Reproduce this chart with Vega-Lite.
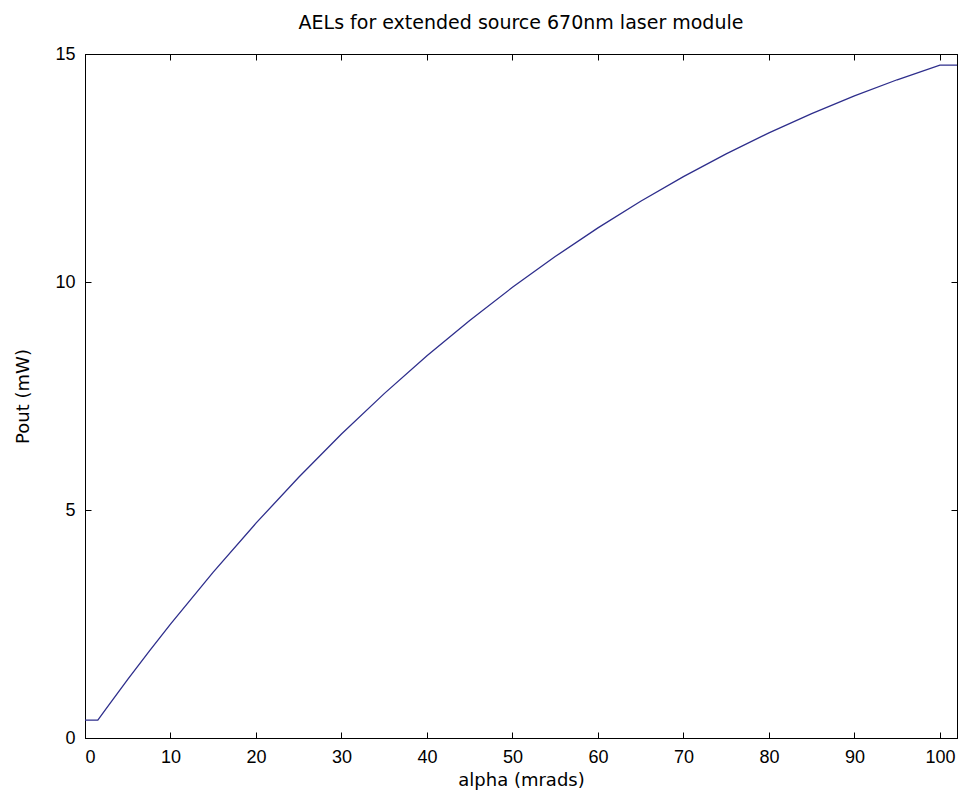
{
  "$schema": "https://vega.github.io/schema/vega-lite/v6.json",
  "width": 872,
  "height": 684,
  "autosize": {"type": "none"},
  "padding": {"left": 85, "top": 54, "right": 3, "bottom": 67},
  "background": "white",
  "title": {"text": "AELs for extended source 670nm laser module", "fontSize": 19, "font": "DejaVu Sans", "fontWeight": "normal", "color": "#000", "offset": 12, "anchor": "middle"},
  "data": {"values": [
    {"alpha": 0, "pout": 0.394},
    {"alpha": 1.5, "pout": 0.394},
    {"alpha": 2.5, "pout": 0.652},
    {"alpha": 5, "pout": 1.286},
    {"alpha": 7.5, "pout": 1.900},
    {"alpha": 10, "pout": 2.497},
    {"alpha": 15, "pout": 3.638},
    {"alpha": 20, "pout": 4.711},
    {"alpha": 25, "pout": 5.719},
    {"alpha": 30, "pout": 6.665},
    {"alpha": 35, "pout": 7.552},
    {"alpha": 40, "pout": 8.382},
    {"alpha": 45, "pout": 9.158},
    {"alpha": 50, "pout": 9.883},
    {"alpha": 55, "pout": 10.558},
    {"alpha": 60, "pout": 11.186},
    {"alpha": 65, "pout": 11.770},
    {"alpha": 70, "pout": 12.310},
    {"alpha": 75, "pout": 12.809},
    {"alpha": 80, "pout": 13.270},
    {"alpha": 85, "pout": 13.693},
    {"alpha": 90, "pout": 14.081},
    {"alpha": 95, "pout": 14.435},
    {"alpha": 100, "pout": 14.757},
    {"alpha": 102, "pout": 14.757}
  ]},
  "encoding": {
    "x": {"field": "alpha", "type": "quantitative", "scale": {"domain": [0, 102], "nice": false, "zero": false}},
    "y": {"field": "pout", "type": "quantitative", "scale": {"domain": [0, 15], "nice": false}}
  },
  "layer": [
    {
      "mark": {"type": "line", "color": "#2e2e8c", "strokeWidth": 1.3, "clip": true},
      "encoding": {
        "x": {"field": "alpha", "type": "quantitative", "title": "alpha (mrads)",
          "axis": {"orient": "bottom", "values": [0,10,20,30,40,50,60,70,80,90,100], "tickSize": -6, "labelPadding": 16, "titlePadding": 5, "grid": false}},
        "y": {"field": "pout", "type": "quantitative", "title": "Pout (mW)",
          "axis": {"orient": "left", "values": [0,5,10,15], "tickSize": -6, "labelPadding": 16, "titlePadding": 22, "grid": false}}
      }
    },
    {
      "mark": {"type": "line", "opacity": 0},
      "encoding": {
        "x": {"field": "alpha", "type": "quantitative",
          "axis": {"orient": "top", "values": [0,10,20,30,40,50,60,70,80,90,100], "tickSize": -6, "labels": false, "title": null, "grid": false}},
        "y": {"field": "pout", "type": "quantitative",
          "axis": {"orient": "right", "values": [0,5,10,15], "tickSize": -6, "labels": false, "title": null, "grid": false}}
      }
    }
  ],
  "resolve": {"axis": {"x": "independent", "y": "independent"}},
  "config": {
    "view": {"stroke": "#000", "strokeWidth": 1},
    "axis": {
      "domainColor": "#000", "tickColor": "#000", "domainWidth": 1, "tickWidth": 1,
      "labelFont": "Liberation Sans", "labelFontSize": 18, "labelColor": "#000",
      "titleFont": "DejaVu Sans", "titleFontSize": 18, "titleFontWeight": "normal", "titleColor": "#000"
    }
  }
}
